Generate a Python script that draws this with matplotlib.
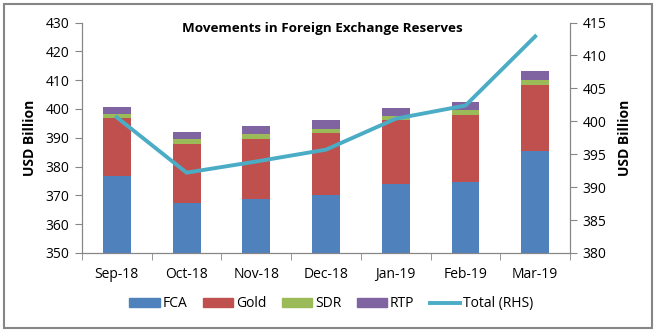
#!/usr/bin/env python3
"""Movements in foreign exchange reserves: stacked bars plus total line."""

import matplotlib.pyplot as plt
from matplotlib.lines import Line2D
from matplotlib.patches import Patch, Rectangle
import numpy as np

MONTHS = ["Sep-18", "Oct-18", "Nov-18", "Dec-18", "Jan-19", "Feb-19", "Mar-19"]
FCA = [376.7, 367.4, 368.7, 370.0, 373.8, 374.8, 385.4]
GOLD = [20.1, 20.6, 21.0, 21.5, 22.3, 23.1, 23.0]
SDR = [1.5, 1.6, 1.6, 1.7, 1.6, 1.9, 1.8]
RTP = [2.4, 2.5, 2.7, 2.8, 2.6, 2.7, 3.0]
TOTAL = [400.6, 392.2, 393.9, 395.7, 400.4, 402.4, 412.9]

COLORS = {"FCA": "#4F81BD", "Gold": "#C0504D", "SDR": "#9BBB59", "RTP": "#8064A2"}
LINE_COLOR = "#4BACC6"
GREY = "#868686"

plt.rcParams["font.family"] = ["Open Sans", "DejaVu Sans"]

fig = plt.figure(figsize=(6.56, 3.32), dpi=100)
ax = fig.add_axes([0.125, 0.238, 0.744, 0.694])
ax2 = ax.twinx()

x = np.arange(len(MONTHS))
bottom = np.zeros(len(MONTHS))
for name, vals in (("FCA", FCA), ("Gold", GOLD), ("SDR", SDR), ("RTP", RTP)):
    ax.bar(x, vals, 0.4, bottom=bottom, color=COLORS[name], zorder=2)
    bottom += np.array(vals)

ax2.plot(x, TOTAL, color=LINE_COLOR, linewidth=2.8, zorder=3)

ax.set_xlim(-0.5, len(MONTHS) - 0.5)
ax.set_ylim(350, 430)
ax.set_yticks(range(350, 431, 10))
ax2.set_ylim(380, 415)
ax2.set_yticks(range(380, 416, 5))

ax.set_xticks(x)
ax.set_xticklabels(MONTHS)
ax.set_xticks(np.arange(-0.5, len(MONTHS), 1.0), minor=True)
ax.tick_params(axis="x", which="major", length=0, pad=10, labelsize=10)
ax.tick_params(axis="x", which="minor", length=5, color=GREY)
ax.tick_params(axis="y", length=5, color=GREY, labelsize=10, pad=4)
ax2.tick_params(axis="y", length=5, color=GREY, labelsize=10, pad=4)

for a in (ax, ax2):
    a.spines["top"].set_visible(False)
    for s in ("left", "right", "bottom"):
        a.spines[s].set_color(GREY)
ax.patch.set_visible(False)
ax.set_zorder(ax2.get_zorder() - 1)
ax2.patch.set_visible(False)

ax.set_ylabel("USD Billion", fontsize=10, fontweight="bold", labelpad=6)
ax2.set_ylabel("USD Billion", fontsize=10, fontweight="bold", labelpad=8)

fig.text(0.492, 0.913, "Movements in Foreign Exchange Reserves",
         ha="center", va="center", fontsize=9.7, fontweight="bold")

handles = [Patch(color=COLORS[n]) for n in ("FCA", "Gold", "SDR", "RTP")]
handles.append(Line2D([], [], color=LINE_COLOR, linewidth=2.8))
fig.legend(handles, ["FCA", "Gold", "SDR", "RTP", "Total (RHS)"],
           loc="center", bbox_to_anchor=(0.505, 0.085), ncol=5, frameon=False,
           fontsize=10, handlelength=2.2, handleheight=0.6, handletextpad=0.2,
           columnspacing=1.1)

fig.patches.append(Rectangle((0.006, 0.012), 0.988, 0.976, transform=fig.transFigure,
                             fill=False, edgecolor=GREY, linewidth=1.5))

fig.savefig("out.png", dpi=100)
